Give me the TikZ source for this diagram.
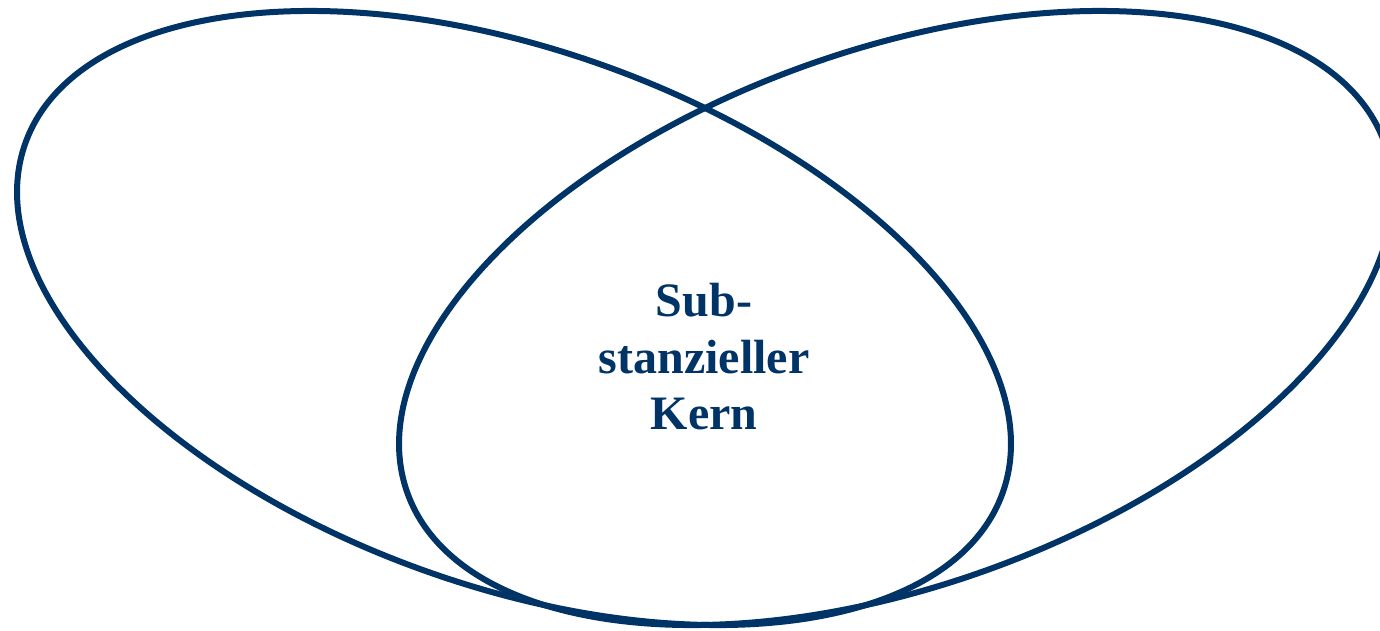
\documentclass[tikz,border=0pt]{standalone}
\usepackage{fontspec}
\setmainfont{Liberation Serif}
\definecolor{navy}{HTML}{003366}
\begin{document}
\begin{tikzpicture}[x=1pt,y=-1pt,
  ring/.style={draw=navy, line width=6pt},
  coretext/.style={font=\bfseries\fontsize{48}{56.5}\selectfont, text=navy, align=center, inner sep=0pt}]
\useasboundingbox (0,0) rectangle (1380,630);
\begin{scope}[shift={(514,318)}, rotate=-19.7]
  \draw[ring] (0,0) ellipse [x radius=519, y radius=268];
\end{scope}
\begin{scope}[shift={(896,318)}, rotate=19.7]
  \draw[ring] (0,0) ellipse [x radius=519, y radius=268];
\end{scope}
\node[coretext] (core) at (704,357) {Sub-\\stanzieller\\Kern};
\end{tikzpicture}
\end{document}
